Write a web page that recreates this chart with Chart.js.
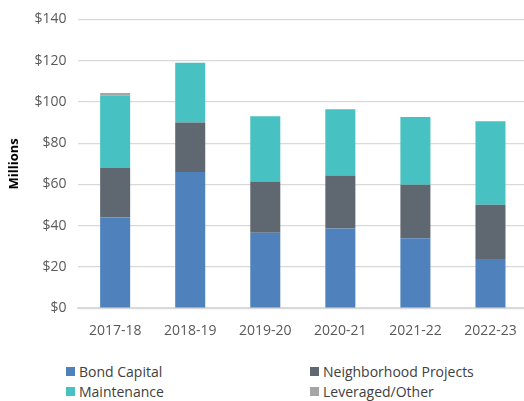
<!DOCTYPE html>
<html>
<head>
<meta charset="utf-8">
<script src="https://cdn.jsdelivr.net/npm/chart.js@4"></script>
<style>
  body { margin: 0; background: #fff; overflow: hidden; }
  #wrap { position: relative; width: 524px; height: 401px; overflow: hidden; }
  #box { position: absolute; left: 0; top: 0; width: 528px; height: 345px; }
  #legend { position: absolute; top: 362px; left: 66px; width: 440px;
    display: grid; grid-template-columns: 244px 200px; row-gap: 1px;
    font-family: 'Open Sans', sans-serif; font-size: 14px; color: #404040; }
  .item { display: flex; align-items: center; height: 19px; }
  .sw { width: 9px; height: 9px; margin-right: 4px; }
</style>
</head>
<body>
<div id="wrap">
  <div id="box"><canvas id="budgetChart"></canvas></div>
  <div id="legend"></div>
</div>
<script>
// fiscal years and spending by source, $ millions
const years        = ['2017-18', '2018-19', '2019-20', '2020-21', '2021-22', '2022-23'];
const bondCapital  = [44, 66, 36.6, 38.6, 33.9, 23.8];
const neighborhood = [24, 24, 24.8, 25.7, 26, 26.3];
const maintenance  = [35, 29, 31.6, 32.1, 32.8, 40.5];
const leveraged    = [1.3, 0, 0, 0, 0, 0];

const BLUE  = '#4f81bd';
const SLATE = '#5f6870';
const TEAL  = '#47c1c1';
const GREY  = '#a5a5a5';
const GRID  = '#d9d9d9';
const TEXT  = '#595959';

const series = [
  { label: 'Bond Capital',          data: bondCapital,  color: BLUE  },
  { label: 'Neighborhood Projects', data: neighborhood, color: SLATE },
  { label: 'Maintenance',           data: maintenance,  color: TEAL  },
  { label: 'Leveraged/Other',       data: leveraged,    color: GREY  }
];

const tickFont = { family: 'Open Sans', size: 14 };

new Chart(document.getElementById('budgetChart'), {
  type: 'bar',
  data: {
    labels: years,
    datasets: series.map(s => ({
      label: s.label,
      data: s.data,
      backgroundColor: s.color,
      borderWidth: 0,
      categoryPercentage: 0.4,
      barPercentage: 1
    }))
  },
  options: {
    responsive: true,
    maintainAspectRatio: false,
    animation: false,
    layout: { padding: { top: 1, right: 0, bottom: 0, left: 6 } },
    plugins: {
      legend: { display: false },
      tooltip: { enabled: false }
    },
    scales: {
      x: {
        stacked: true,
        grid: { display: false },
        border: { color: GRID, width: 1.5 },
        ticks: { color: TEXT, font: tickFont, padding: 6 }
      },
      y: {
        stacked: true,
        min: 0,
        max: 140,
        grid: { color: GRID, lineWidth: 1.3, drawTicks: false },
        border: { display: false },
        ticks: {
          stepSize: 20,
          color: TEXT,
          font: tickFont,
          padding: 11,
          callback: v => '$' + v
        },
        title: {
          display: true,
          text: 'Millions',
          color: '#000',
          font: { family: 'Open Sans', size: 13, weight: 'bold' },
          padding: { top: 0, bottom: 2 }
        }
      }
    }
  }
});

// two-column legend, order as in the source chart
const legendEl = document.getElementById('legend');
series.forEach(s => {
  const item = document.createElement('div');
  item.className = 'item';
  item.innerHTML = '<span class="sw" style="background:' + s.color + '"></span>' + s.label;
  legendEl.appendChild(item);
});
</script>
</body>
</html>
